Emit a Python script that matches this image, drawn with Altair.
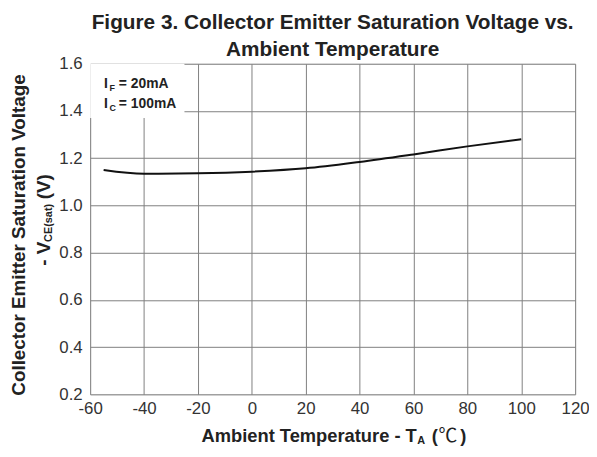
import altair as alt
import pandas as pd

# Data
temps = [-55, -40, -20, 0, 20, 40, 60, 80, 100]
vce = [1.150, 1.134, 1.136, 1.143, 1.157, 1.184, 1.216, 1.250, 1.280]

x_ticks = [-60, -40, -20, 0, 20, 40, 60, 80, 100, 120]
y_ticks = [round(0.2 + 0.1 * i, 1) for i in range(15)]

title_lines = ["Figure 3. Collector Emitter Saturation Voltage vs.", "Ambient Temperature"]

FONT = "Liberation Sans"
TXT = "#222222"

df = pd.DataFrame({"temp": temps, "vce": vce})

xs = alt.Scale(domain=[-60, 120], nice=False, zero=False)
ys = alt.Scale(domain=[0.2, 1.6], nice=False, zero=False)


def label(text, x, y, size, weight="bold", angle=0, align="left", font=FONT, baseline="middle", color=TXT):
    kw = dict(fontSize=size, fontWeight=weight, align=align, baseline=baseline, font=font, color=color)
    if angle:
        kw["angle"] = angle
    return alt.Chart(pd.DataFrame({"t": [text]})).mark_text(**kw).encode(
        x=alt.value(x), y=alt.value(y), text="t:N"
    )


base = alt.Chart(df)

line = base.mark_line(color="#111111", strokeWidth=2, interpolate="monotone").encode(
    x=alt.X(
        "temp:Q", scale=xs,
        axis=alt.Axis(
            values=x_ticks, title=None, grid=True, gridColor="#808080", gridWidth=1,
            ticks=False, domain=False, labelFont=FONT, labelFontSize=17,
            labelColor="#333333", labelPadding=6, labelFlush=False, labelOverlap=False,
            labelExpr="toString(datum.value)"
        ),
    ),
    y=alt.Y(
        "vce:Q", scale=ys,
        axis=alt.Axis(
            values=y_ticks, title=None, grid=True,
            gridColor={"condition": {"test": "round(datum.value*10) % 2 == 0", "value": "#808080"}, "value": "#cccccc"},
            gridWidth=1, ticks=False, domain=False, labelFont=FONT, labelFontSize=17,
            labelColor="#333333", labelPadding=8, labelFlush=False, labelOverlap=False,
            labelExpr="round(datum.value*10) % 2 == 0 ? format(datum.value, '.1f') : ''"
        ),
    ),
)

box = alt.Chart(pd.DataFrame({"a": [0]})).mark_rect(color="white").encode(
    x=alt.datum(-60, scale=xs), x2=alt.datum(-25),
    y=alt.datum(1.6, scale=ys), y2=alt.datum(1.37),
)

ann = [
    label("I", 14, 21, 14),
    label("F", 19.5, 25, 9),
    label("= 20mA", 29, 21, 14),
    label("I", 14, 41, 14),
    label("C", 19.5, 45, 9),
    label("= 100mA", 29, 41, 14),
]

ytitle = [
    label("Collector Emitter Saturation Voltage", -72, 173, 19, angle=270, align="center"),
    label("- V", -47, 204, 19, angle=270),
    label("CE(sat)", -42, 180, 11, angle=270),
    label("(V)", -47, 137, 19, angle=270),
]

xtitle = [
    label("Ambient Temperature - T", 330, 376, 18.5, align="right"),
    label("A", 330.5, 381, 11),
    label("(", 345, 376, 18.5),
    label("℃", 352, 376, 19, weight="normal", font="Noto Sans CJK SC"),
    label(")", 374, 376, 18.5),
]

chart = alt.layer(line, box, *ann, *ytitle, *xtitle).properties(
    width=490,
    height=334,
    autosize=alt.AutoSizeParams(type="none"),
    padding={"left": 83, "top": 54, "right": 14, "bottom": 61},
    title=alt.TitleParams(
        text=title_lines, fontSize=21, font=FONT, fontWeight="bold", color=TXT,
        anchor="middle", lineHeight=27, offset=4, dy=9
    ),
).configure_view(stroke="#222222", strokeWidth=2.5).configure(background="white")

chart.save("out.html", embed_options={"renderer": "svg", "actions": False})
